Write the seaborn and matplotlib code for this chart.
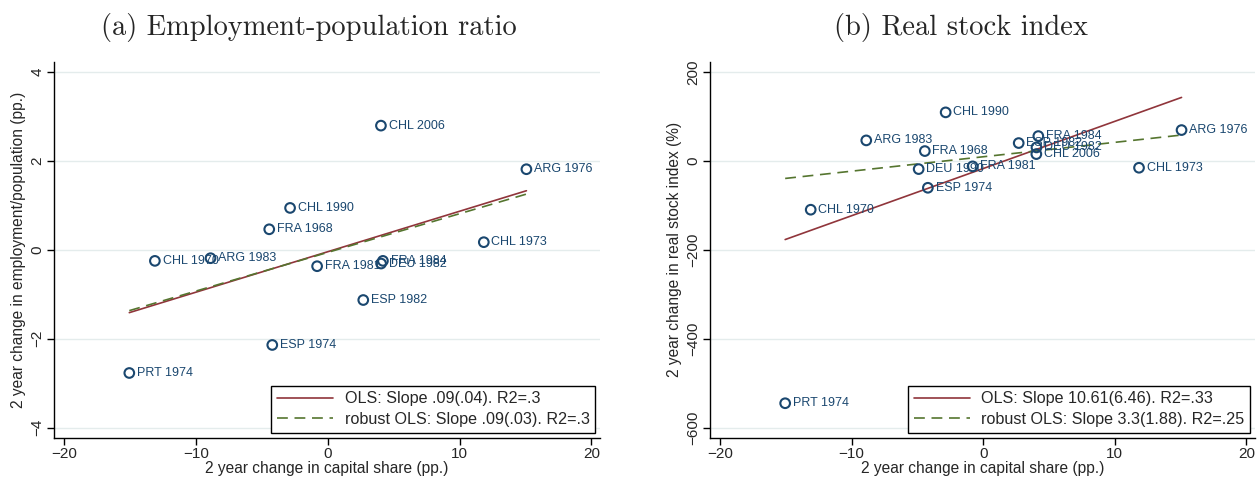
import numpy as np
import pandas as pd
import matplotlib
matplotlib.use("Agg")
import matplotlib.pyplot as plt
import seaborn as sns
from matplotlib.lines import Line2D

# episodes and values
episodes = ["CHL 2006", "ARG 1976", "CHL 1990", "FRA 1968", "CHL 1973", "CHL 1970", "ARG 1983",
            "FRA 1981", "FRA 1984", "DEU 1982", "ESP 1982", "ESP 1974", "PRT 1974", "DEU 1990"]
cap_share_change = [4.04, 15.07, -2.85, -4.43, 11.84, -13.1, -8.88,
                    -0.8, 4.19, 4.05, 2.7, -4.2, -15.04, -4.9]
emp_change = [2.79, 1.81, 0.94, 0.46, 0.17, -0.25, -0.19,
              -0.37, -0.25, -0.31, -1.13, -2.14, -2.77, np.nan]
stock_change = [15, 69, 108.8, 21.8, -15.7, -110, 45.8,
                -12.6, 55.5, 30, 39.8, -60.7, -545, -18.7]

# fitted lines (intercept, slope)
emp_ols = (-0.045, 0.091)
emp_rob = (-0.06, 0.087)
stock_ols = (-17.5, 10.61)
stock_rob = (9.0, 3.24)

emp_legend = ["OLS: Slope .09(.04). R2=.3", "robust OLS: Slope .09(.03). R2=.3"]
stock_legend = ["OLS: Slope 10.61(6.46). R2=.33", "robust OLS: Slope 3.3(1.88). R2=.25"]

NAVY = "#1a476f"
MAROON = "#90353b"
GREEN = "#55752f"
GRID = "#e4ecec"

sns.set_style("ticks")
plt.rcParams["font.family"] = ["Liberation Sans", "DejaVu Sans"]

df = pd.DataFrame({"episode": episodes, "x": cap_share_change,
                   "emp": emp_change, "stock": stock_change})

W, H = 1257, 480
fig = plt.figure(figsize=(W / 100, H / 100), dpi=100)
bottom = (H - 437.5) / H
height = (437.5 - 62) / H
ax1 = fig.add_axes([54 / W, bottom, (600 - 54) / W, height])
ax2 = fig.add_axes([710 / W, bottom, (1255 - 710) / W, height])


def panel(ax, col, ols, rob, legend, ylim, yticks, ylabel):
    d = df.dropna(subset=[col])
    for t in yticks:
        ax.axhline(t, color=GRID, lw=1, zorder=0)
    sns.scatterplot(data=d, x="x", y=col, ax=ax, marker="o", s=48,
                    facecolor="none", edgecolor=NAVY, linewidth=1.5, zorder=3)
    for _, r in d.iterrows():
        ax.annotate(r["episode"], (r["x"], r[col]), xytext=(5.5, 0),
                    textcoords="offset points", va="center", ha="left",
                    fontsize=9, color=NAVY, zorder=4)
    xs = np.array([d["x"].min(), d["x"].max()])
    fit = pd.DataFrame({"x": np.r_[xs, xs],
                        "y": np.r_[ols[0] + ols[1] * xs, rob[0] + rob[1] * xs],
                        "fit": ["ols"] * 2 + ["rob"] * 2})
    sns.lineplot(data=fit[fit.fit == "ols"], x="x", y="y", ax=ax, color=MAROON, lw=1.2, zorder=2)
    sns.lineplot(data=fit[fit.fit == "rob"], x="x", y="y", ax=ax, color=GREEN, lw=1.2,
                 dashes=(6.5, 4), zorder=2)
    handles = [Line2D([], [], color=MAROON, lw=1.2),
               Line2D([], [], color=GREEN, lw=1.2, dashes=(6.5, 4))]
    leg = ax.legend(handles, legend, loc="lower right", fontsize=11.6, frameon=True,
                    fancybox=False, edgecolor="black", framealpha=1, borderaxespad=0.3,
                    handlelength=3.5, handletextpad=0.7, labelspacing=0.35, borderpad=0.35)
    leg.get_frame().set_linewidth(1.0)
    ax.set_xlim(-20.75, 20.65)
    ax.set_ylim(*ylim)
    ax.set_xticks([-20, -10, 0, 10, 20])
    ax.set_yticks(yticks)
    sns.despine(ax=ax)
    for s in ["left", "bottom"]:
        ax.spines[s].set_color("black")
        ax.spines[s].set_linewidth(1.0)
    ax.tick_params(axis="both", length=5, width=1, color="black", labelsize=11, pad=2)
    for lab in ax.get_yticklabels():
        lab.set_rotation(90)
        lab.set_va("center")
    ax.set_xlabel("2 year change in capital share (pp.)", fontsize=11.2, labelpad=0)
    ax.set_ylabel(ylabel, fontsize=11.2, labelpad=3)


panel(ax1, "emp", emp_ols, emp_rob, emp_legend, (-4.22, 4.22), [-4, -2, 0, 2, 4],
      "2 year change in employment/population (pp.)")
panel(ax2, "stock", stock_ols, stock_rob, stock_legend, (-622, 222), [-600, -400, -200, 0, 200],
      "2 year change in real stock index (%)")

fig.text(309 / W, 1 - 27 / H, "(a) Employment-population ratio", family="cmr10",
         fontsize=20.5, ha="center", va="center")
fig.text(961 / W, 1 - 27 / H, "(b) Real stock index", family="cmr10",
         fontsize=20.5, ha="center", va="center")

fig.savefig("out.png", dpi=100)
